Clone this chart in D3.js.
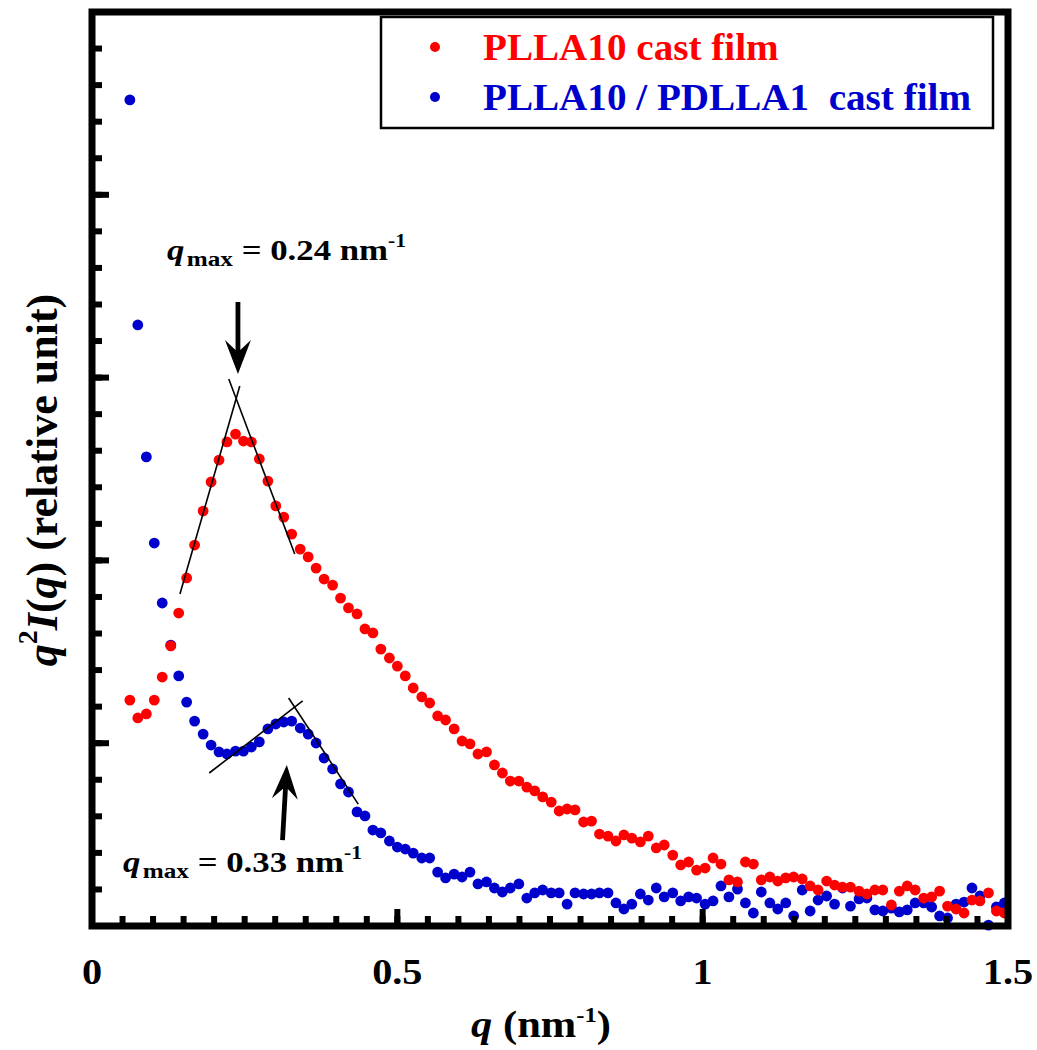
<!DOCTYPE html>
<html>
<head>
<meta charset="utf-8">
<script src="https://cdn.jsdelivr.net/npm/d3@7"></script>
<style>
  body { margin: 0; background: #fff; }
  svg { display: block; }
  text { font-family: "Liberation Serif", "Times New Roman", serif; font-weight: bold; }
</style>
</head>
<body>
<svg id="chart" width="1037" height="1050"></svg>
<script>
// Scattering vector q (nm^-1), shared by both series
const qValues = [
  0.062, 0.075, 0.089, 0.102, 0.115, 0.129, 0.142, 0.155, 0.168, 0.182,
  0.195, 0.208, 0.221, 0.235, 0.248, 0.261, 0.274, 0.288, 0.301, 0.314,
  0.327, 0.341, 0.354, 0.367, 0.380, 0.394, 0.407, 0.420, 0.434, 0.447,
  0.460, 0.473, 0.487, 0.500, 0.513, 0.526, 0.540, 0.553, 0.566, 0.579,
  0.593, 0.606, 0.619, 0.632, 0.646, 0.659, 0.672, 0.685, 0.699, 0.712,
  0.725, 0.738, 0.752, 0.765, 0.778, 0.791, 0.805, 0.818, 0.831, 0.845,
  0.858, 0.871, 0.884, 0.898, 0.911, 0.924, 0.937, 0.951, 0.964, 0.977,
  0.990, 1.004, 1.017, 1.030, 1.043, 1.057, 1.070, 1.083, 1.096, 1.110,
  1.123, 1.136, 1.149, 1.163, 1.176, 1.189, 1.203, 1.216, 1.229, 1.242,
  1.256, 1.269, 1.282, 1.295, 1.309, 1.322, 1.335, 1.348, 1.362, 1.375,
  1.388, 1.401, 1.415, 1.428, 1.441, 1.454, 1.468, 1.481, 1.494
];

// q^2 I(q), PLLA10 cast film
const pllaValues = [
  1.236, 1.138, 1.160, 1.236, 1.362, 1.532, 1.712, 1.904, 2.084, 2.270,
  2.429, 2.549, 2.648, 2.691, 2.653, 2.648, 2.555, 2.434, 2.298, 2.237,
  2.144, 2.062, 2.019, 1.958, 1.898, 1.865, 1.794, 1.740, 1.707, 1.625,
  1.603, 1.515, 1.466, 1.422, 1.368, 1.302, 1.253, 1.220, 1.149, 1.127,
  1.078, 1.012, 0.996, 0.941, 0.952, 0.881, 0.837, 0.793, 0.793, 0.760,
  0.739, 0.706, 0.678, 0.629, 0.640, 0.635, 0.569, 0.574, 0.503, 0.492,
  0.465, 0.498, 0.481, 0.460, 0.492, 0.427, 0.443, 0.388, 0.334, 0.350,
  0.306, 0.317, 0.372, 0.339, 0.252, 0.241, 0.350, 0.339, 0.252, 0.268,
  0.246, 0.263, 0.268, 0.257, 0.219, 0.197, 0.246, 0.224, 0.213, 0.213,
  0.191, 0.175, 0.197, 0.197, 0.115, 0.191, 0.219, 0.197, 0.153, 0.159,
  0.191, 0.109, 0.093, 0.071, 0.142, 0.137, 0.181, 0.082, 0.071
];

// q^2 I(q), PLLA10 / PDLLA1 cast film
const blendValues = [
  4.519, 3.288, 2.566, 2.095, 1.767, 1.537, 1.368, 1.225, 1.121, 1.050,
  0.990, 0.952, 0.941, 0.957, 0.957, 0.979, 1.007, 1.078, 1.105, 1.116,
  1.121, 1.083, 1.050, 1.001, 0.919, 0.859, 0.777, 0.733, 0.624, 0.602,
  0.525, 0.509, 0.465, 0.432, 0.421, 0.399, 0.372, 0.372, 0.295, 0.263,
  0.284, 0.268, 0.295, 0.230, 0.241, 0.208, 0.186, 0.208, 0.230, 0.153,
  0.181, 0.197, 0.181, 0.181, 0.120, 0.181, 0.175, 0.175, 0.181, 0.181,
  0.126, 0.093, 0.120, 0.175, 0.142, 0.208, 0.159, 0.181, 0.137, 0.159,
  0.153, 0.120, 0.137, 0.219, 0.159, 0.202, 0.126, 0.071, 0.186, 0.126,
  0.093, 0.126, 0.055, 0.197, 0.082, 0.142, 0.164, 0.120, 0.208, 0.109,
  0.148, 0.153, 0.088, 0.082, 0.098, 0.077, 0.088, 0.126, 0.126, 0.104,
  0.055, 0.044, 0.120, 0.131, 0.208, 0.164, 0.005, 0.104, 0.126
];

const seriesNames = ["PLLA10 cast film", "PLLA10 / PDLLA1\u00a0 cast film"];
const seriesColors = ["#ff0000", "#0000cc"];

// Axis ticks
const xMajorTicks = [0, 0.5, 1, 1.5];
const xTickLabels = ["0", "0.5", "1", "1.5"];
const xMinorTicks = d3.range(0.05, 1.5, 0.05);
const yMajorTicks = [1, 2, 3, 4];
const yMinorTicks = d3.range(0.2, 5, 0.2);

// Tangent lines used to locate q_max, as [q, value] end points
const pllaTangents = [[[0.144, 1.816], [0.242, 2.954]], [[0.224, 2.992], [0.332, 2.035]]];
const blendTangents = [[[0.192, 0.837], [0.345, 1.231]], [[0.322, 1.247], [0.436, 0.667]]];

// Peak-marker arrows (tail -> tip) and their labels
const arrows = [
  { from: [0.239, 3.414], to: [0.239, 3.020] },
  { from: [0.312, 0.470], to: [0.319, 0.881] }
];
const peakLabels = [
  { value: "0.24", x: 167, y: 260 },
  { value: "0.33", x: 123, y: 872 }
];

const svg = d3.select("#chart");
svg.append("rect").attr("width", 1037).attr("height", 1050).attr("fill", "#fff");

const x = d3.scaleLinear().domain([0, 1.5]).range([92, 1008]);
const y = d3.scaleLinear().domain([0, 5]).range([926, 12]);

// Data points: blend underneath, PLLA10 on top
const series = [
  { values: blendValues, color: seriesColors[1] },
  { values: pllaValues, color: seriesColors[0] }
];
series.forEach(s => {
  svg.append("g").selectAll("circle")
    .data(qValues.map((q, i) => [q, s.values[i]]))
    .join("circle")
    .attr("cx", d => x(d[0]))
    .attr("cy", d => y(d[1]))
    .attr("r", 5.4)
    .attr("fill", s.color);
});

// Tangent lines
const line = d3.line().x(d => x(d[0])).y(d => y(d[1]));
svg.append("g").selectAll("path")
  .data(pllaTangents.concat(blendTangents))
  .join("path")
  .attr("d", line)
  .attr("fill", "none")
  .attr("stroke", "#000")
  .attr("stroke-width", 1.6);

// Arrows with barbed heads
arrows.forEach(a => {
  const x0 = x(a.from[0]), y0 = y(a.from[1]);
  const x1 = x(a.to[0]), y1 = y(a.to[1]);
  const ang = Math.atan2(y1 - y0, x1 - x0);
  const len = Math.hypot(x1 - x0, y1 - y0);
  const headLen = 34, headHalf = 13, notch = 24, shaftHalf = 2.4;
  const pts = [
    [0, -shaftHalf], [len - notch, -shaftHalf], [len - headLen, -headHalf],
    [len, 0],
    [len - headLen, headHalf], [len - notch, shaftHalf], [0, shaftHalf]
  ];
  svg.append("path")
    .attr("d", "M" + pts.map(p => p.join(",")).join("L") + "Z")
    .attr("transform", `translate(${x0},${y0}) rotate(${ang * 180 / Math.PI})`)
    .attr("fill", "#000");
});

// Peak labels: q_max = ... nm^-1
peakLabels.forEach(p => {
  const t = svg.append("text")
    .attr("transform", `translate(${p.x},${p.y}) scale(1.2,1)`)
    .attr("font-size", 29);
  t.append("tspan").attr("font-style", "italic").text("q");
  t.append("tspan").attr("font-size", 21).attr("dx", 2).attr("dy", 6).text("max");
  t.append("tspan").attr("dy", -6).text(" = " + p.value + " nm");
  t.append("tspan").attr("font-size", 18).attr("dy", -13).text("-1");
});

// Frame
svg.append("rect")
  .attr("x", x(0)).attr("y", y(5))
  .attr("width", x(1.5) - x(0)).attr("height", y(0) - y(5))
  .attr("fill", "none").attr("stroke", "#000").attr("stroke-width", 7);

// Inward ticks
const tickG = svg.append("g").attr("stroke", "#000").attr("stroke-width", 6);
tickG.selectAll(".xmin").data(xMinorTicks).join("line")
  .attr("x1", d => x(d)).attr("x2", d => x(d))
  .attr("y1", y(0)).attr("y2", y(0) - 10);
tickG.selectAll(".xmaj").data(xMajorTicks.slice(1, -1)).join("line")
  .attr("x1", d => x(d)).attr("x2", d => x(d))
  .attr("y1", y(0)).attr("y2", y(0) - 17);
tickG.selectAll(".ymin").data(yMinorTicks).join("line")
  .attr("y1", d => y(d)).attr("y2", d => y(d))
  .attr("x1", x(0)).attr("x2", x(0) + 10);
tickG.selectAll(".ymaj").data(yMajorTicks).join("line")
  .attr("y1", d => y(d)).attr("y2", d => y(d))
  .attr("x1", x(0)).attr("x2", x(0) + 17);

// X tick labels
xMajorTicks.forEach((v, i) => {
  svg.append("text")
    .attr("transform", `translate(${x(v)},984) scale(1.12,1)`)
    .attr("text-anchor", "middle")
    .attr("font-size", 36)
    .text(xTickLabels[i]);
});

// X axis title: q (nm^-1)
const xt = svg.append("text")
  .attr("transform", "translate(541,1037) scale(1.12,1)")
  .attr("text-anchor", "middle")
  .attr("font-size", 38);
xt.append("tspan").attr("font-style", "italic").text("q");
xt.append("tspan").text(" (nm");
xt.append("tspan").attr("font-size", 22).attr("dy", -15).text("-1");
xt.append("tspan").attr("dy", 15).text(")");

// Y axis title: q^2 I(q) (relative unit)
const yt = svg.append("text")
  .attr("transform", "translate(57,480) rotate(-90)")
  .attr("text-anchor", "middle")
  .attr("font-size", 44);
yt.append("tspan").attr("font-style", "italic").text("q");
yt.append("tspan").attr("font-size", 28).attr("dy", -20).text("2");
yt.append("tspan").attr("font-style", "italic").attr("dy", 20).text("I");
yt.append("tspan").text("(");
yt.append("tspan").attr("font-style", "italic").text("q");
yt.append("tspan").text(") (relative unit)");

// Legend
const legend = svg.append("g");
legend.append("rect")
  .attr("x", 381).attr("y", 17).attr("width", 612).attr("height", 111)
  .attr("fill", "#fff").attr("stroke", "#000").attr("stroke-width", 2.5);
seriesNames.forEach((name, i) => {
  const cy = 47 + i * 50;
  legend.append("circle").attr("cx", 435).attr("cy", cy).attr("r", 5).attr("fill", seriesColors[i]);
  legend.append("text")
    .attr("transform", `translate(483,${cy + 13}) scale(1.03,1)`)
    .attr("font-size", 38)
    .attr("fill", seriesColors[i])
    .style("white-space", "pre")
    .text(name);
});
</script>
</body>
</html>
